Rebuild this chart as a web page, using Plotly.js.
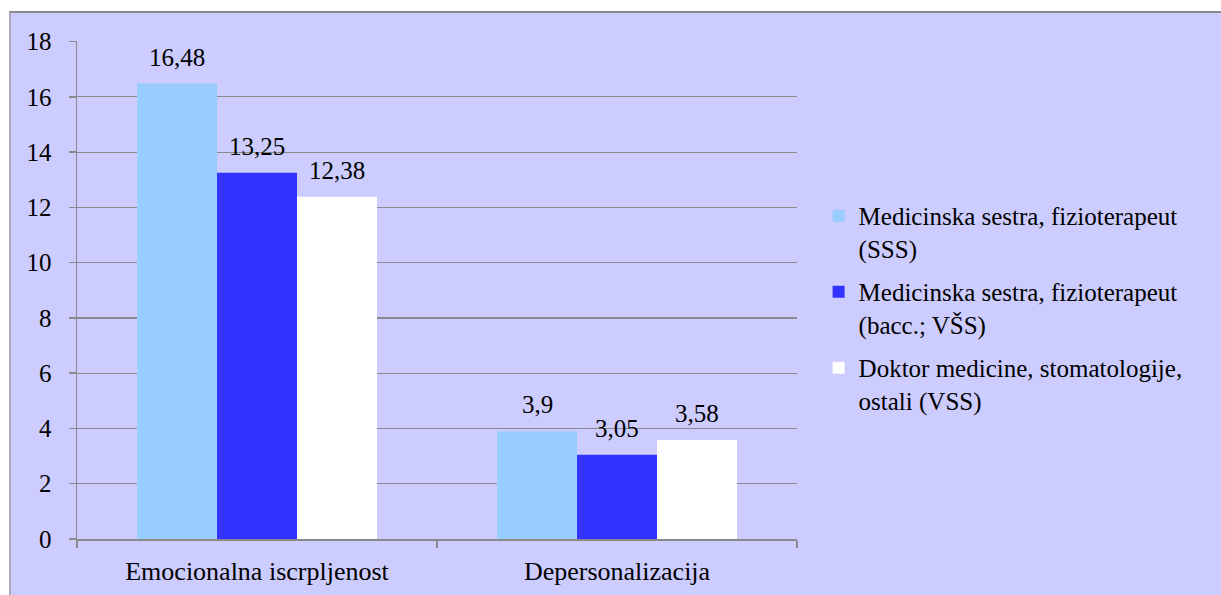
<!DOCTYPE html>
<html>
<head>
<meta charset="utf-8">
<script src="https://cdn.plot.ly/plotly-3.0.1.min.js"></script>
<style>
  html, body { margin: 0; padding: 0; background: #ffffff; overflow: hidden; }
  #frame { position: absolute; left: 9px; top: 11px; width: 1212px; height: 584px;
           border-top: 2px solid #8a8a8a; border-left: 2px solid #a8a8b8; background: #ccccff; }
  #chart { width: 1210px; height: 582px; }
</style>
</head>
<body>
<div id="frame"><div id="chart"></div></div>
<script>
const categories = ["Emocionalna iscrpljenost", "Depersonalizacija"];
const seriesNames = [
  "Medicinska sestra, fizioterapeut<br>(SSS)",
  "Medicinska sestra, fizioterapeut<br>(bacc.; VŠS)",
  "Doktor medicine, stomatologije,<br>ostali (VSS)"
];
const sss = [16.48, 3.9];
const vss_bacc = [13.25, 3.05];
const vss = [12.38, 3.58];
const seriesValues = [sss, vss_bacc, vss];
const seriesColors = ["#99ccff", "#3333ff", "#ffffff"];
const yTicks = [0, 2, 4, 6, 8, 10, 12, 14, 16, 18];

const FONT = "Liberation Serif";
const bargap = 1/3;

const traces = seriesValues.map((vals, i) => ({
  type: "bar",
  name: seriesNames[i],
  x: categories,
  y: vals,
  marker: { color: seriesColors[i], line: { width: 0 } },
  legendgroup: "g" + i,
  hoverinfo: "skip"
}));

const fmt = v => String(v).replace(".", ",");
const nS = seriesValues.length;
const w = (1 - bargap) / nS;
const annotations = [];
seriesValues.forEach((vals, i) => {
  vals.forEach((v, j) => {
    annotations.push({
      x: j + (i - (nS - 1) / 2) * w,
      y: v,
      xref: "x", yref: "y",
      text: fmt(v),
      showarrow: false,
      yanchor: "bottom",
      yshift: 11,
      font: { family: FONT, size: 25, color: "#000000" }
    });
  });
});

const layout = {
  width: 1210, height: 582,
  margin: { l: 66, r: 424, t: 28, b: 56 },
  paper_bgcolor: "#ccccff",
  plot_bgcolor: "#ccccff",
  barmode: "group",
  bargap: bargap,
  bargroupgap: 0,
  font: { family: FONT, size: 25, color: "#000000" },
  showlegend: true,
  legend: {
    x: 1.03, xanchor: "left",
    y: 0.695, yanchor: "top",
    bgcolor: "rgba(0,0,0,0)",
    font: { family: FONT, size: 25, color: "#000000" },
    valign: "top",
    tracegroupgap: 8,
    itemwidth: 30,
    traceorder: "grouped"
  },
  xaxis: {
    type: "category",
    showline: true, linecolor: "#8a8a8a", linewidth: 1.5,
    ticks: "outside", tickson: "boundaries", ticklen: 7, tickcolor: "#8a8a8a", tickwidth: 1.5,
    showgrid: false, zeroline: false,
    ticklabelstandoff: 8,
    tickfont: { family: FONT, size: 26, color: "#000000" }
  },
  yaxis: {
    range: [0, 18.02],
    tickmode: "array", tickvals: yTicks, ticktext: yTicks.map(String),
    showline: true, linecolor: "#8a8a8a", linewidth: 1.5,
    ticks: "outside", ticklen: 7, tickcolor: "#8a8a8a", tickwidth: 1.5,
    showgrid: true, gridcolor: "#8a8a8a", gridwidth: 1.2,
    zeroline: false,
    ticklabelstandoff: 12,
    tickfont: { family: FONT, size: 25, color: "#000000" }
  },
  annotations: annotations
};

Plotly.newPlot("chart", traces, layout, { staticPlot: true, displayModeBar: false });
</script>
</body>
</html>
